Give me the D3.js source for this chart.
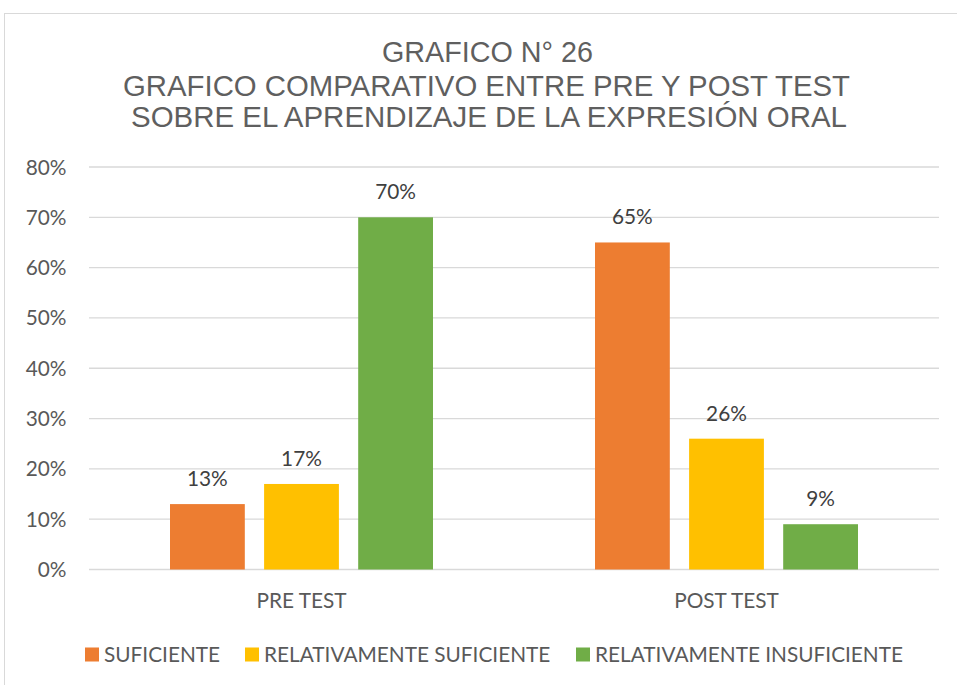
<!DOCTYPE html>
<html>
<head>
<meta charset="utf-8">
<script src="https://cdn.jsdelivr.net/npm/d3@7"></script>
<style>
  body { margin: 0; background: #fff; }
  text { font-family: Lato, "Open Sans", sans-serif; }
</style>
</head>
<body>
<div id="chart"></div>
<script>
const categories = ["PRE TEST", "POST TEST"];
const seriesNames = ["SUFICIENTE", "RELATIVAMENTE SUFICIENTE", "RELATIVAMENTE INSUFICIENTE"];
const suficiente = [13, 65];
const relSuficiente = [17, 26];
const relInsuficiente = [70, 9];
const yTicks = [0, 10, 20, 30, 40, 50, 60, 70, 80];
const titleLines = ["GRAFICO N° 26", "GRAFICO COMPARATIVO ENTRE PRE Y POST TEST", "SOBRE EL APRENDIZAJE DE LA EXPRESIÓN ORAL"];

const colours = ["#ED7D31", "#FFC000", "#70AD47"];
const values = [suficiente, relSuficiente, relInsuficiente];

const width = 957, height = 685;
const plot = {left: 89, right: 939, top: 167, bottom: 569.5};
const fs = 20.8;

const svg = d3.select("#chart").append("svg")
  .attr("width", width)
  .attr("height", height);

// chart frame (runs off the right and bottom edges)
svg.append("rect")
  .attr("x", 4.5).attr("y", 13.5)
  .attr("width", 1000).attr("height", 1000)
  .attr("fill", "#fff")
  .attr("stroke", "#d9d9d9");

// title, squeezed like the original
const titleBase = [62, 96, 127];
const titleWidth = [211, 727, 716];
svg.append("g").selectAll("text")
  .data(titleLines)
  .join("text")
  .attr("x", (d, i) => i == 0 ? 487.5 : (i == 1 ? 486.5 : 489))
  .attr("y", (d, i) => titleBase[i])
  .attr("text-anchor", "middle")
  .style("font-family", "'Liberation Sans', Arial, sans-serif")
  .attr("font-size", 29)
  .attr("fill", "#5f5f5f")
  .attr("textLength", (d, i) => titleWidth[i])
  .attr("lengthAdjust", "spacingAndGlyphs")
  .text(d => d);

const y = d3.scaleLinear()
  .domain([0, 80])
  .range([plot.bottom, plot.top]);

const x0 = d3.scaleBand()
  .domain(categories)
  .range([plot.left, plot.right]);

const groupW = 263;
const x1 = d3.scaleBand()
  .domain(seriesNames)
  .range([(x0.bandwidth() - groupW) / 2, (x0.bandwidth() + groupW) / 2])
  .paddingInner(0.205);

// gridlines
svg.append("g").selectAll("line")
  .data(yTicks)
  .join("line")
  .attr("x1", plot.left).attr("x2", plot.right)
  .attr("y1", d => y(d)).attr("y2", d => y(d))
  .attr("stroke", "#d9d9d9")
  .attr("stroke-width", 1.3);

// y labels
svg.append("g").selectAll("text")
  .data(yTicks)
  .join("text")
  .attr("x", 66.5)
  .attr("y", d => y(d) + 7.5)
  .attr("text-anchor", "end")
  .attr("font-size", fs)
  .attr("fill", "#595959")
  .text(d => d + "%");

// bars
const rows = [];
categories.forEach((c, ci) => {
  seriesNames.forEach((s, si) => rows.push({cat: c, name: s, value: values[si][ci], colour: colours[si]}));
});

svg.append("g").selectAll("rect")
  .data(rows)
  .join("rect")
  .attr("x", d => x0(d.cat) + x1(d.name))
  .attr("y", d => y(d.value))
  .attr("width", x1.bandwidth())
  .attr("height", d => y(0) - y(d.value))
  .attr("fill", d => d.colour);

// data labels
svg.append("g").selectAll("text")
  .data(rows)
  .join("text")
  .attr("x", d => x0(d.cat) + x1(d.name) + x1.bandwidth() / 2)
  .attr("y", d => y(d.value) - 18)
  .attr("text-anchor", "middle")
  .attr("font-size", fs)
  .attr("fill", "#404040")
  .text(d => d.value + "%");

// category labels
svg.append("g").selectAll("text")
  .data(categories)
  .join("text")
  .attr("x", d => x0(d) + x0.bandwidth() / 2)
  .attr("y", 608)
  .attr("text-anchor", "middle")
  .attr("font-size", fs)
  .attr("fill", "#595959")
  .text(d => d);

// legend
const legend = svg.append("g");
const legX = [85, 245, 576];
seriesNames.forEach((s, i) => {
  legend.append("rect")
    .attr("x", legX[i]).attr("y", 647.5)
    .attr("width", 14).attr("height", 14)
    .attr("fill", colours[i]);
  legend.append("text")
    .attr("x", legX[i] + 19)
    .attr("y", 662)
    .attr("font-size", fs)
    .attr("fill", "#595959")
    .text(s);
});
</script>
</body>
</html>
